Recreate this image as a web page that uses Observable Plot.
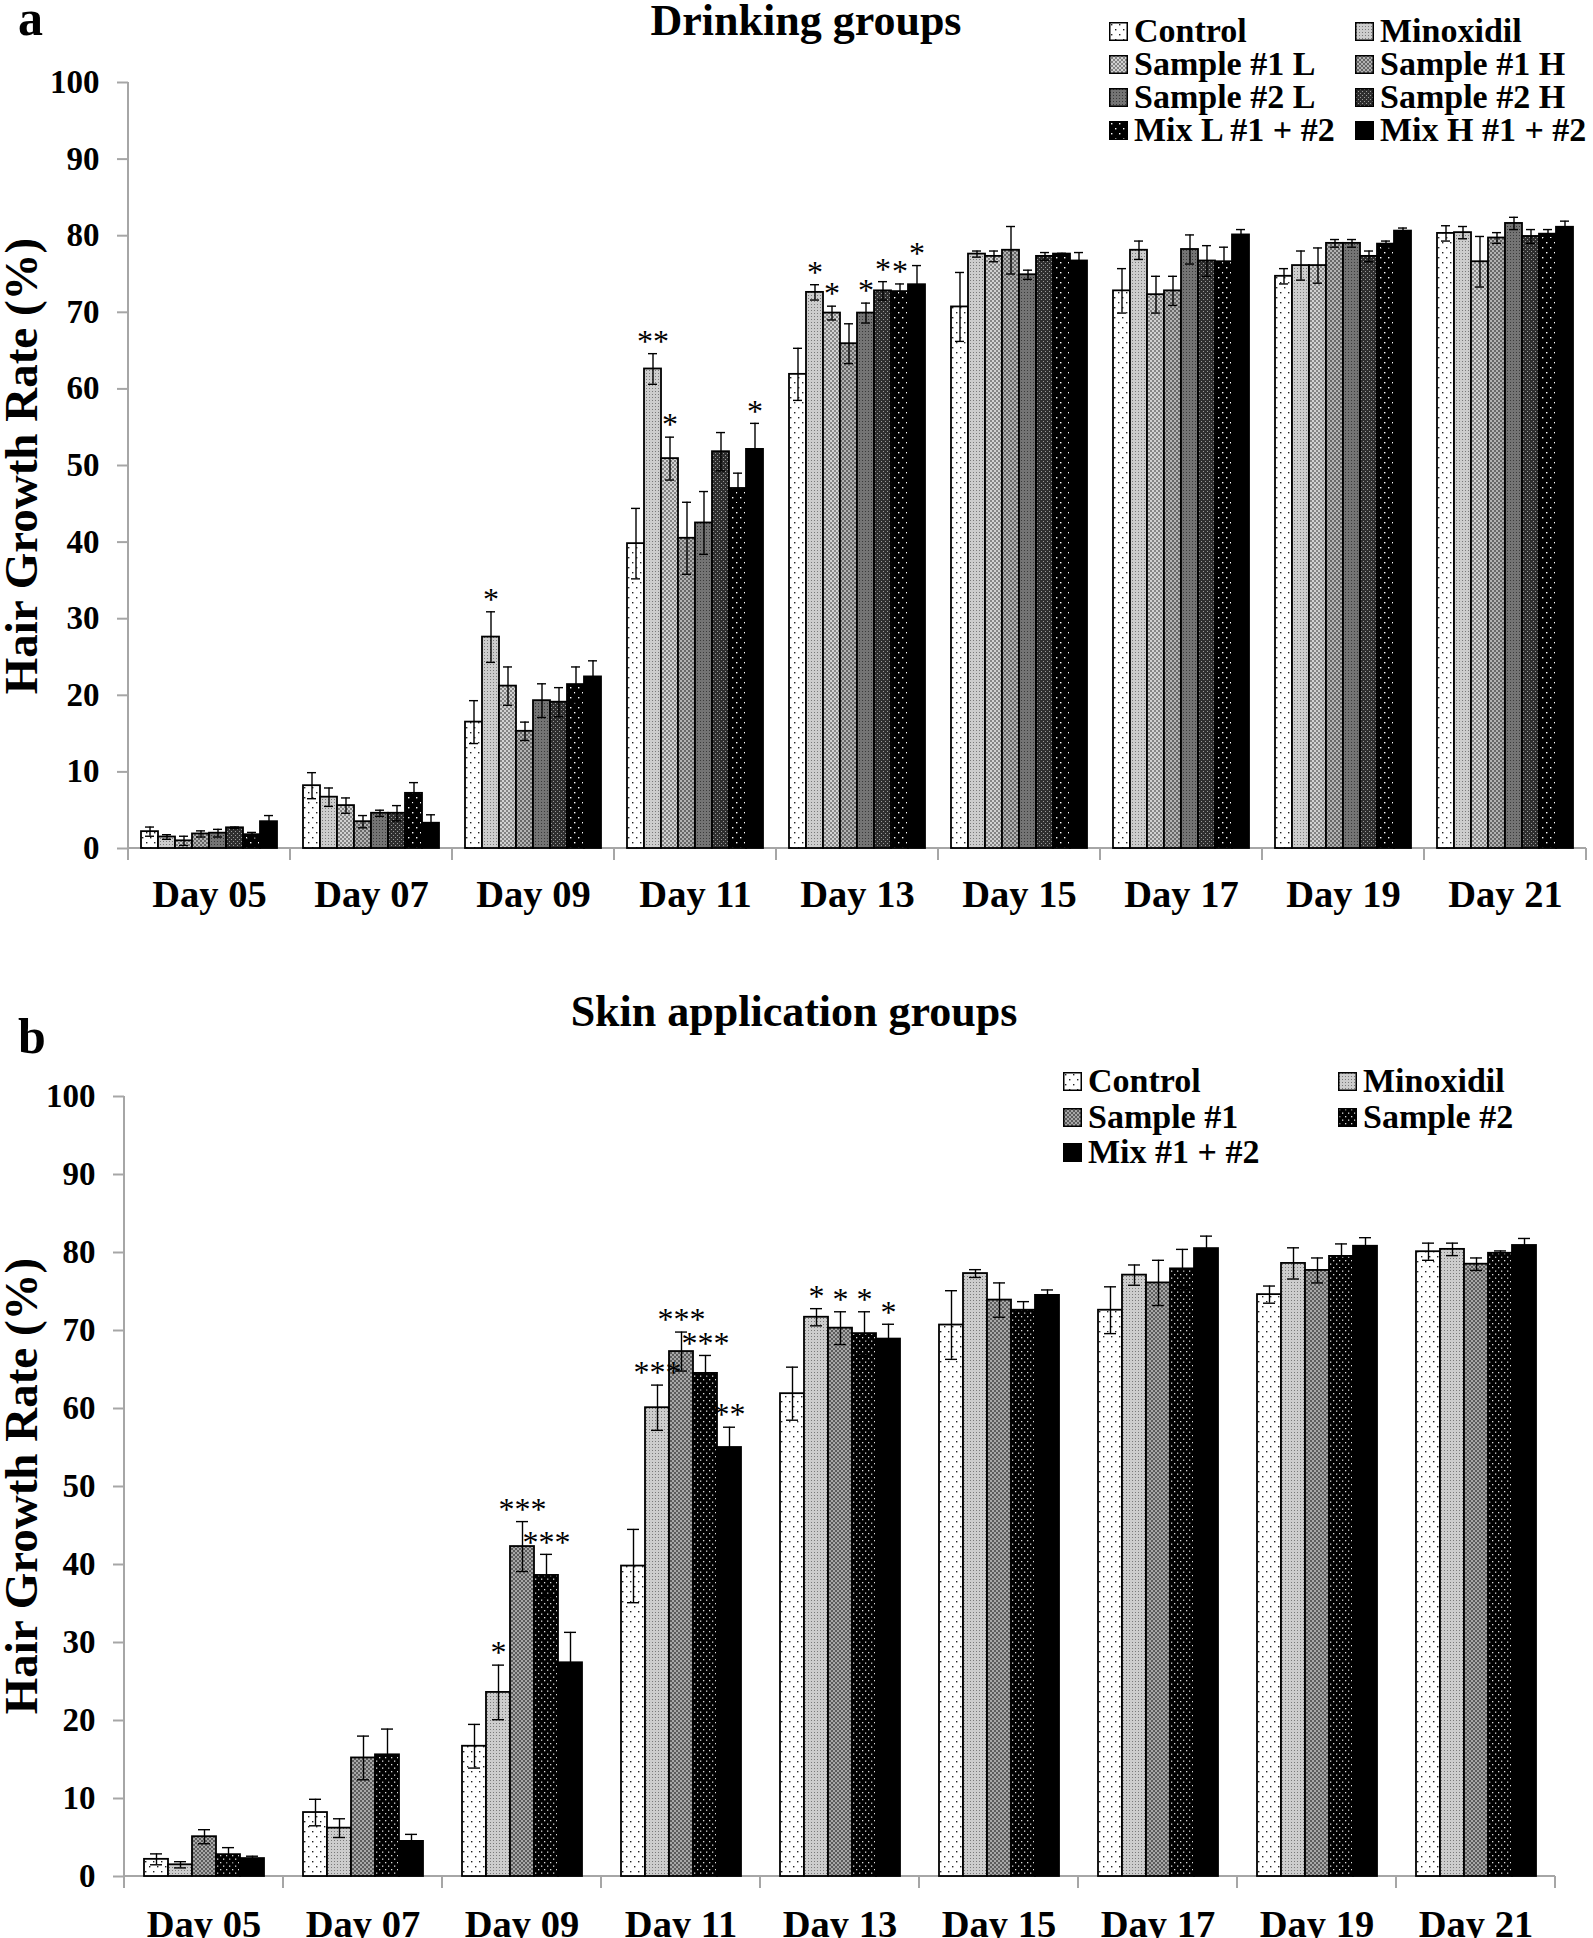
<!DOCTYPE html>
<html><head><meta charset="utf-8">
<script src="https://cdn.jsdelivr.net/npm/d3@7"></script>
<script src="https://cdn.jsdelivr.net/npm/@observablehq/plot@0.6"></script>
<style>
body{margin:0;background:white}
#page{position:relative;width:1593px;height:1938px;overflow:hidden;background:white;font-family:"Liberation Serif","Times New Roman",serif;color:black}
.abs{position:absolute;white-space:nowrap;line-height:1}
.title{font-weight:bold;font-size:44px;transform:translateX(-50%)}
.panel{font-weight:bold;font-size:50px}
.ytitle{font-weight:bold;font-size:47px;transform:translate(-50%,-50%) rotate(-90deg)}
.leg{position:absolute;display:flex;align-items:center;font-weight:bold;white-space:nowrap}
.leg svg{flex:none;margin-right:6px}
.chart{position:absolute;left:0}
</style></head>
<body>
<div id="page">
<svg width="0" height="0" style="position:absolute;left:0;top:0">
<defs>
<pattern id="pCtrl" patternUnits="userSpaceOnUse" width="8" height="10"><rect width="8" height="10" fill="#fff"/><rect x="2" y="2" width="1.4" height="1.4" fill="#222"/><rect x="6" y="7" width="1.4" height="1.4" fill="#222"/></pattern>
<pattern id="pMinox" patternUnits="userSpaceOnUse" width="3" height="3"><rect width="3" height="3" fill="#cdcdcd"/><rect x="1" y="1" width="1" height="1" fill="#7a7a7a"/></pattern>
<pattern id="pS1L" patternUnits="userSpaceOnUse" width="4" height="4"><rect width="4" height="4" fill="#d2d2d2"/><rect x="0" y="0" width="2" height="2" fill="#858585"/><rect x="2" y="2" width="2" height="2" fill="#858585"/></pattern>
<pattern id="pS1H" patternUnits="userSpaceOnUse" width="4" height="4"><rect width="4" height="4" fill="#b2b2b2"/><rect x="0" y="0" width="2" height="2" fill="#666"/><rect x="2" y="2" width="2" height="2" fill="#666"/></pattern>
<pattern id="pS2L" patternUnits="userSpaceOnUse" width="3" height="3"><rect width="3" height="3" fill="#747474"/><rect x="1" y="1" width="1" height="1" fill="#3a3a3a"/></pattern>
<pattern id="pS2H" patternUnits="userSpaceOnUse" width="4" height="4"><rect width="4" height="4" fill="#2e2e2e"/><rect x="1" y="1" width="1" height="1" fill="#9a9a9a"/><rect x="3" y="3" width="1" height="1" fill="#9a9a9a"/></pattern>
<pattern id="pMixL" patternUnits="userSpaceOnUse" width="8" height="10"><rect width="8" height="10" fill="#000"/><rect x="2" y="2" width="1.4" height="1.4" fill="#fff"/><rect x="6" y="7" width="1.4" height="1.4" fill="#fff"/></pattern>
<pattern id="pS1b" patternUnits="userSpaceOnUse" width="4" height="4"><rect width="4" height="4" fill="#a8a8a8"/><rect x="0" y="0" width="2" height="2" fill="#5c5c5c"/><rect x="2" y="2" width="2" height="2" fill="#5c5c5c"/></pattern>
<pattern id="pS2b" patternUnits="userSpaceOnUse" width="6" height="7"><rect width="6" height="7" fill="#000"/><rect x="1" y="1" width="1.3" height="1.3" fill="#ddd"/><rect x="4" y="4.5" width="1.3" height="1.3" fill="#ddd"/></pattern>
</defs>
</svg>
<div id="chartA" class="chart" style="top:0"></div>
<div id="chartB" class="chart" style="top:1014px"></div>
<div class="abs panel" style="left:18px;top:-7px">a</div>
<div class="abs panel" style="left:18px;top:1011px">b</div>
<div class="abs title" style="left:806px;top:-1px">Drinking groups</div>
<div class="abs title" style="left:794px;top:990px">Skin application groups</div>
<div class="abs ytitle" style="left:21px;top:466px">Hair Growth Rate (%)</div>
<div class="abs ytitle" style="left:21px;top:1486px">Hair Growth Rate (%)</div>
<div id="legendA"></div>
<div id="legendB"></div>
</div>
<script>
// ---------- shared categories ----------
const days = ["Day 05", "Day 07", "Day 09", "Day 11", "Day 13", "Day 15", "Day 17", "Day 19", "Day 21"];

// ---------- panel a: drinking groups ----------
const seriesA = ["Control", "Minoxidil", "Sample #1 L", "Sample #1 H", "Sample #2 L", "Sample #2 H", "Mix L #1 + #2", "Mix H #1 + #2"];
const fillsA = ["url(#pCtrl)", "url(#pMinox)", "url(#pS1L)", "url(#pS1H)", "url(#pS2L)", "url(#pS2H)", "url(#pMixL)", "#000"];

const controlA    = [2.2, 8.2, 16.5, 39.8, 61.9, 70.7, 72.8, 74.7, 80.3];
const minoxidilA  = [1.5, 6.7, 27.6, 62.6, 72.6, 77.6, 78.1, 76.1, 80.4];
const sample1LA   = [1.0, 5.6, 21.2, 50.9, 69.9, 77.3, 72.3, 76.1, 76.6];
const sample1HA   = [1.9, 3.5, 15.3, 40.5, 65.9, 78.1, 72.8, 79.0, 79.7];
const sample2LA   = [2.0, 4.6, 19.3, 42.5, 69.9, 74.9, 78.2, 79.0, 81.6];
const sample2HA   = [2.7, 4.6, 19.1, 51.8, 72.8, 77.3, 76.7, 77.3, 79.9];
const mixLA       = [1.8, 7.2, 21.4, 47.0, 72.7, 77.6, 76.6, 78.9, 80.2];
const mixHA       = [3.5, 3.3, 22.4, 52.1, 73.6, 76.7, 80.1, 80.6, 81.1];

const controlAErr   = [0.6, 1.7, 2.8, 4.6, 3.4, 4.5, 2.9, 1.0, 1.0];
const minoxidilAErr = [0.3, 1.2, 3.3, 2.0, 1.0, 0.4, 1.2, 1.9, 0.8];
const sample1LAErr  = [0.6, 1.0, 2.5, 2.8, 0.9, 0.7, 2.4, 2.3, 3.3];
const sample1HAErr  = [0.4, 0.8, 1.2, 4.7, 2.6, 3.1, 1.9, 0.5, 0.7];
const sample2LAErr  = [0.5, 0.4, 2.2, 4.1, 1.3, 0.6, 1.9, 0.5, 0.8];
const sample2HAErr  = [0.1, 1.0, 1.9, 2.5, 1.2, 0.5, 2.0, 0.7, 0.9];
const mixLAErr      = [0.3, 1.4, 2.3, 2.0, 1.0, 0.1, 1.9, 0.4, 0.6];
const mixHAErr      = [0.8, 1.1, 2.1, 3.4, 2.5, 1.1, 0.7, 0.4, 0.8];

const controlASig   = ["", "", "", "", "", "", "", "", ""];
const minoxidilASig = ["", "", "*", "**", "*", "", "", "", ""];
const sample1LASig  = ["", "", "", "*", "*", "", "", "", ""];
const sample1HASig  = ["", "", "", "", "", "", "", "", ""];
const sample2LASig  = ["", "", "", "", "*", "", "", "", ""];
const sample2HASig  = ["", "", "", "", "*", "", "", "", ""];
const mixLASig      = ["", "", "", "", "*", "", "", "", ""];
const mixHASig      = ["", "", "", "*", "*", "", "", "", ""];

// ---------- panel b: skin application groups ----------
const seriesB = ["Control", "Minoxidil", "Sample #1", "Sample #2", "Mix #1 + #2"];
const fillsB = ["url(#pCtrl)", "url(#pMinox)", "url(#pS1b)", "url(#pS2b)", "#000"];

const controlB   = [2.2, 8.2, 16.7, 39.8, 61.9, 70.7, 72.6, 74.6, 80.1];
const minoxidilB = [1.5, 6.2, 23.6, 60.1, 71.7, 77.3, 77.1, 78.6, 80.4];
const sample1B   = [5.1, 15.2, 42.3, 67.3, 70.3, 73.9, 76.1, 77.7, 78.5];
const sample2B   = [2.8, 15.6, 38.6, 64.5, 69.6, 72.6, 77.9, 79.5, 79.9];
const mixB       = [2.3, 4.5, 27.4, 55.0, 68.9, 74.5, 80.5, 80.8, 80.9];

const controlBErr   = [0.7, 1.7, 2.8, 4.7, 3.4, 4.4, 3.0, 1.1, 1.1];
const minoxidilBErr = [0.4, 1.2, 3.5, 2.9, 1.1, 0.5, 1.3, 2.0, 0.8];
const sample1BErr   = [0.9, 2.8, 3.2, 2.5, 2.1, 2.2, 2.9, 1.6, 0.8];
const sample2BErr   = [0.9, 3.3, 2.7, 2.3, 2.8, 1.1, 2.5, 1.6, 0.3];
const mixBErr       = [0.3, 0.9, 3.9, 2.6, 1.9, 0.7, 1.6, 1.1, 0.9];

const controlBSig   = ["", "", "", "", "", "", "", "", ""];
const minoxidilBSig = ["", "", "*", "***", "*", "", "", "", ""];
const sample1BSig   = ["", "", "***", "***", "*", "", "", "", ""];
const sample2BSig   = ["", "", "***", "***", "*", "", "", "", ""];
const mixBSig       = ["", "", "", "**", "*", "", "", "", ""];

const yTicks = [0, 10, 20, 30, 40, 50, 60, 70, 80, 90, 100];

function table(series, values, errs, sigs) {
  return series.flatMap((s, i) => days.map((d, j) => ({day: d, series: s, value: values[i][j], err: errs[i][j], sig: sigs[i][j]})));
}

const dataA = table(seriesA,
  [controlA, minoxidilA, sample1LA, sample1HA, sample2LA, sample2HA, mixLA, mixHA],
  [controlAErr, minoxidilAErr, sample1LAErr, sample1HAErr, sample2LAErr, sample2HAErr, mixLAErr, mixHAErr],
  [controlASig, minoxidilASig, sample1LASig, sample1HASig, sample2LASig, sample2HASig, mixLASig, mixHASig]);
const dataB = table(seriesB,
  [controlB, minoxidilB, sample1B, sample2B, mixB],
  [controlBErr, minoxidilBErr, sample1BErr, sample2BErr, mixBErr],
  [controlBSig, minoxidilBSig, sample1BSig, sample2BSig, mixBSig]);

function chart(data, series, fills, o) {
  const plot = Plot.plot({
    width: 1593, height: o.height,
    marginTop: o.mt, marginBottom: o.mb, marginLeft: o.ml, marginRight: o.mr,
    style: {fontFamily: "'Liberation Serif','Times New Roman',serif", background: "transparent", overflow: "visible"},
    fx: {domain: days, padding: 0, label: null},
    x: {domain: series, paddingInner: 0, paddingOuter: o.po, axis: null},
    y: {domain: [0, 100], axis: null},
    color: {domain: series, range: fills},
    marks: [
      Plot.axisY({ticks: yTicks, tickSize: 11, tickPadding: 18, stroke: "#a6a6a6", strokeWidth: 2, fill: "black", fontSize: 33, fontWeight: "bold", label: null}),
      Plot.axisFx({anchor: "bottom", tickSize: 0, tickPadding: o.lp, fontSize: 38.5, fontWeight: "bold", fill: "black", label: null}),
      Plot.barY(data, {fx: "day", x: "series", y: "value", fill: "series", stroke: "black", strokeWidth: 1.8}),
      Plot.ruleX(data, {fx: "day", x: "series", y1: d => d.value - d.err, y2: d => d.value + d.err, stroke: "black", strokeWidth: 1.4}),
      Plot.tickY(data, {fx: "day", x: "series", y: d => d.value + d.err, stroke: "black", strokeWidth: 1.4, insetLeft: o.cap, insetRight: o.cap}),
      Plot.tickY(data, {fx: "day", x: "series", y: d => d.value - d.err, stroke: "black", strokeWidth: 1.4, insetLeft: o.cap, insetRight: o.cap}),
      Plot.text(data.filter(d => d.sig), {fx: "day", x: "series", y: d => d.value + d.err, text: "sig", fontSize: 32, lineAnchor: "middle", dy: -12, fill: "black"})
    ]
  });
  // Excel-style axis lines: y axis line, baseline and category boundary ticks (from the scales)
  const fxS = plot.scale("fx"), yS = plot.scale("y");
  const y0 = yS.apply(0), yTop = yS.apply(100);
  const xs = days.map(d => fxS.apply(d));
  xs.push(xs[xs.length - 1] + fxS.bandwidth);
  const g = d3.select(plot).insert("g", ":first-child").attr("stroke", "#a6a6a6").attr("stroke-width", 2);
  g.append("line").attr("x1", xs[0]).attr("x2", xs[0]).attr("y1", yTop).attr("y2", y0 + 12);
  g.append("line").attr("x1", xs[0]).attr("x2", xs[xs.length - 1]).attr("y1", y0).attr("y2", y0);
  xs.forEach(x => g.append("line").attr("x1", x).attr("x2", x).attr("y1", y0).attr("y2", y0 + 12));
  return plot;
}

document.getElementById("chartA").appendChild(chart(dataA, seriesA, fillsA, {height: 930, mt: 82, mb: 82, ml: 128, mr: 7, po: 0.662, lp: 31, cap: 4}));
document.getElementById("chartB").appendChild(chart(dataB, seriesB, fillsB, {height: 924, mt: 82, mb: 62, ml: 121, mr: 36, po: 0.75, lp: 33, cap: 6}));

function legend(id, series, fills, cols, rows, fontSize, lineHeight) {
  const root = document.getElementById(id);
  series.forEach((s, i) => {
    const div = document.createElement("div");
    div.className = "leg";
    div.style.left = cols[i % 2] + "px";
    div.style.top = (rows[Math.floor(i / 2)] - lineHeight / 2) + "px";
    div.style.height = lineHeight + "px";
    div.style.fontSize = fontSize + "px";
    div.style.lineHeight = lineHeight + "px";
    div.innerHTML = `<svg width="19" height="19"><rect x="0.75" y="0.75" width="17.5" height="17.5" fill="${fills[i]}" stroke="black" stroke-width="1.5"/></svg><span>${s}</span>`;
    root.appendChild(div);
  });
}
legend("legendA", seriesA, fillsA, [1109, 1355], [31, 64, 97, 130], 34, 30);
legend("legendB", seriesB, fillsB, [1063, 1338], [1081, 1117, 1152], 34, 32);
</script>
</body></html>
